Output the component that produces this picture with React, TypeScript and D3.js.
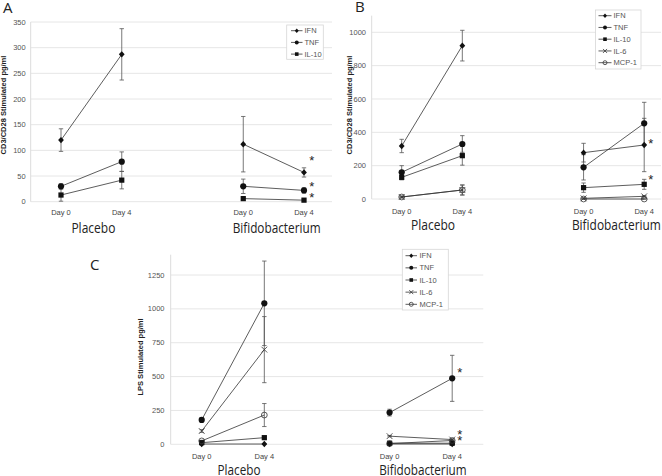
import React from "react";
import * as d3 from "d3";

// ---------- data ----------
const dayLabels = ["Day 0", "Day 4", "Day 0", "Day 4"];
const slots = [0, 1, 3, 4];
const groupLabels = ["Placebo", "Bifidobacterium"];

const panelASeries = ["IFN", "TNF", "IL-10"];
const panelAValues = [
  [120, 287, 112, 57],
  [30, 78, 30, 22],
  [13, 42, 6, 3],
];
const panelAErrors = [
  [22, 50, 54, 9],
  [5, 19, 14, 5],
  [12, 17, 3, 2],
];
const panelATicks = [0, 50, 100, 150, 200, 250, 300, 350];
const panelAStarValues = [84, 34, 13];

const panelBSeries = ["IFN", "TNF", "IL-10", "IL-6", "MCP-1"];
const panelBValues = [
  [318, 920, 278, 324],
  [160, 330, 190, 454],
  [130, 260, 68, 88],
  [12, 54, 4, 16],
  [12, 54, 0, 0],
];
const panelBErrors = [
  [40, 92, 56, 160],
  [40, 50, 76, 126],
  [15, 57, 28, 30],
  [5, 30, 3, 5],
  [5, 30, 2, 2],
];
const panelBTicks = [0, 200, 400, 600, 800, 1000];
const panelBStarValues = [344, 128];

const panelCSeries = ["IFN", "TNF", "IL-10", "IL-6", "MCP-1"];
const panelCValues = [
  [2, 2, 2, 2],
  [180, 1041, 234, 487],
  [12, 49, 8, 8],
  [98, 699, 60, 35],
  [25, 216, 5, 28],
];
const panelCErrors = [
  [1, 1, 1, 1],
  [15, 312, 25, 170],
  [5, 10, 3, 3],
  [10, 244, 5, 5],
  [5, 85, 3, 5],
];
const panelCTicks = [0, 250, 500, 750, 1000, 1250];
const panelCStarValues = [548, 90, 40];

// ---------- styles ----------
const markerOf: Record<string, string> = {
  IFN: "diamond",
  TNF: "circle",
  "IL-10": "square",
  "IL-6": "x",
  "MCP-1": "open",
};
const SMALL = "'Liberation Sans', Arial, sans-serif";
const BIG = "'Open Sans', 'Noto Sans', sans-serif";

function Marker({ type, x, y, s }: { type: string; x: number; y: number; s: number }) {
  const ink = "#111";
  if (type === "diamond")
    return <path d={`M${x},${y - s * 1.1}L${x + s},${y}L${x},${y + s * 1.1}L${x - s},${y}Z`} fill={ink} />;
  if (type === "circle") return <circle cx={x} cy={y} r={s} fill={ink} />;
  if (type === "square") return <rect x={x - s * 0.9} y={y - s * 0.9} width={s * 1.8} height={s * 1.8} fill={ink} />;
  if (type === "x")
    return (
      <g stroke="#333" strokeWidth={0.8}>
        <line x1={x - s} y1={y - s} x2={x + s} y2={y + s} />
        <line x1={x - s} y1={y + s} x2={x + s} y2={y - s} />
      </g>
    );
  return <circle cx={x} cy={y} r={s} fill="none" stroke="#333" strokeWidth={0.8} />;
}

type Cfg = {
  series: string[];
  values: number[][];
  errors: number[][];
  ticks: number[];
  yDomainMax: number;
  axisTopVal: number;
  yRange: [number, number];
  xRange: [number, number];
  gridX: [number, number];
  tickX: number;
  title: string;
  titleX: number;
  titleY: number;
  letter: string;
  letterX: number;
  letterY: number;
  dayY: number;
  groupY: number;
  groupDx: number[];
  groupW: number[];
  legend: { x0: number; x1: number; y0: number; y1: number; row0: number; step: number; l0: number; l1: number; tx: number };
  stars: number[];
  starDx: number;
};

function Panel({ c }: { c: Cfg }) {
  const y = d3.scaleLinear().domain([0, c.yDomainMax]).range(c.yRange);
  const x = d3.scaleLinear().domain([0, 4]).range(c.xRange);
  const line = d3
    .line<[number, number]>()
    .x((d) => x(d[0]))
    .y((d) => y(d[1]));
  return (
    <g>
      {c.ticks.map((t) => (
        <g key={"g" + t}>
          <line x1={c.gridX[0]} x2={c.gridX[1]} y1={y(t)} y2={y(t)} stroke="#e6e6e6" strokeWidth={1} />
          <text x={c.tickX} y={y(t) + 2.6} textAnchor="end" fontFamily={SMALL} fontSize={7.5} fill="#555">
            {t}
          </text>
        </g>
      ))}
      <line x1={c.gridX[0]} x2={c.gridX[0]} y1={y(c.axisTopVal)} y2={y(0)} stroke="#dcdcdc" strokeWidth={1} />
      <text
        transform={`translate(${c.titleX},${c.titleY}) rotate(-90)`}
        textAnchor="middle"
        dominantBaseline="middle"
        fontFamily={SMALL}
        fontWeight="bold"
        fontSize={7.5}
        fill="#222"
      >
        {c.title}
      </text>
      <text x={c.letterX} y={c.letterY} fontFamily={BIG} fontSize={15} fill="#222">
        {c.letter}
      </text>
      {/* error bars */}
      {c.series.map((s, si) =>
        c.values[si].map((v, i) => {
          const e = c.errors[si][i];
          const px = x(slots[i]);
          return (
            <g key={`e${s}${i}`} stroke="#555" strokeWidth={0.8}>
              <line x1={px} x2={px} y1={y(v - e)} y2={y(v + e)} />
              <line x1={px - 2.2} x2={px + 2.2} y1={y(v + e)} y2={y(v + e)} />
              <line x1={px - 2.2} x2={px + 2.2} y1={y(v - e)} y2={y(v - e)} />
            </g>
          );
        })
      )}
      {/* lines */}
      {c.series.map((s, si) => (
        <g key={"l" + s}>
          {[0, 2].map((k) => (
            <path
              key={k}
              d={line([
                [slots[k], c.values[si][k]],
                [slots[k + 1], c.values[si][k + 1]],
              ]) as string}
              fill="none"
              stroke="#333"
              strokeWidth={0.8}
            />
          ))}
        </g>
      ))}
      {/* markers */}
      {c.series.map((s, si) =>
        c.values[si].map((v, i) => (
          <Marker key={`m${s}${i}`} type={markerOf[s]} x={x(slots[i])} y={y(v)} s={markerOf[s] === "circle" ? 3.1 : 2.9} />
        ))
      )}
      {/* stars */}
      {c.stars.map((v, i) => (
        <text key={"s" + i} x={x(4) + c.starDx} y={y(v) + 6.5} textAnchor="middle" fontFamily={SMALL} fontSize={13} fill="#222">
          *
        </text>
      ))}
      {/* day labels */}
      {dayLabels.map((d, i) => (
        <text key={"d" + i} x={x(slots[i])} y={c.dayY} textAnchor="middle" fontFamily={SMALL} fontSize={7.5} fill="#444">
          {d}
        </text>
      ))}
      {groupLabels.map((g, gi) => (
        <text
          key={g}
          x={(x(slots[gi * 2]) + x(slots[gi * 2 + 1])) / 2 + c.groupDx[gi]}
          y={c.groupY}
          textAnchor="middle"
          fontFamily={BIG}
          fontSize={14}
          textLength={c.groupW[gi]}
          lengthAdjust="spacingAndGlyphs"
          fill="#222"
        >
          {g}
        </text>
      ))}
      {/* legend */}
      <rect
        x={c.legend.x0}
        y={c.legend.y0}
        width={c.legend.x1 - c.legend.x0}
        height={c.legend.y1 - c.legend.y0}
        fill="white"
        stroke="#d6d6d6"
        strokeWidth={0.8}
      />
      {c.series.map((s, si) => {
        const ly = c.legend.row0 + si * c.legend.step;
        const mx = (c.legend.l0 + c.legend.l1) / 2;
        return (
          <g key={"lg" + s}>
            <line x1={c.legend.l0} x2={c.legend.l1} y1={ly} y2={ly} stroke="#333" strokeWidth={0.8} />
            <Marker type={markerOf[s]} x={mx} y={ly} s={2} />
            <text x={c.legend.tx} y={ly + 2.6} fontFamily={SMALL} fontSize={7.5} fill="#555">
              {s}
            </text>
          </g>
        );
      })}
    </g>
  );
}

const cfgA: Cfg = {
  series: panelASeries,
  values: panelAValues,
  errors: panelAErrors,
  ticks: panelATicks,
  yDomainMax: 350,
  axisTopVal: 350,
  yRange: [201.7, 22],
  xRange: [61, 304],
  gridX: [30.7, 332],
  tickX: 25.7,
  title: "CD3/CD28 Stimulated pg/ml",
  titleX: 4,
  titleY: 105,
  letter: "A",
  letterX: 3,
  letterY: 12.5,
  dayY: 215,
  groupY: 233.3,
  groupDx: [2, 3],
  groupW: [44, 88],
  legend: { x0: 286.7, x1: 323.3, y0: 25, y1: 59.3, row0: 30.7, step: 11.7, l0: 291, l1: 302.5, tx: 304.5 },
  stars: panelAStarValues,
  starDx: 7.7,
};

const cfgB: Cfg = {
  series: panelBSeries,
  values: panelBValues,
  errors: panelBErrors,
  ticks: panelBTicks,
  yDomainMax: 1000,
  axisTopVal: 1100,
  yRange: [199, 32.3],
  xRange: [401.7, 644.2],
  gridX: [371.7, 661],
  tickX: 366,
  title: "CD3/CD28 Stimulated pg/ml",
  titleX: 350.5,
  titleY: 105,
  letter: "B",
  letterX: 355,
  letterY: 12,
  dayY: 213.5,
  groupY: 229.5,
  groupDx: [1, 2.5],
  groupW: [44, 89],
  legend: { x0: 595.5, x1: 641, y0: 10, y1: 69, row0: 15.7, step: 11.75, l0: 598.5, l1: 611.5, tx: 613.5 },
  stars: panelBStarValues,
  starDx: 6.7,
};

const cfgC: Cfg = {
  series: panelCSeries,
  values: panelCValues,
  errors: panelCErrors,
  ticks: panelCTicks,
  yDomainMax: 1250,
  axisTopVal: 1400,
  yRange: [444.3, 275],
  xRange: [201.7, 452.2],
  gridX: [170.7, 483.3],
  tickX: 164.5,
  title: "LPS Stimulated pg/ml",
  titleX: 141.5,
  titleY: 357,
  letter: "C",
  letterX: 90,
  letterY: 270,
  dayY: 458.5,
  groupY: 474.5,
  groupDx: [6, 2],
  groupW: [43, 87.5],
  legend: { x0: 402.3, x1: 448.3, y0: 249.3, y1: 310, row0: 255.7, step: 12.15, l0: 405.5, l1: 417, tx: 419.5 },
  stars: panelCStarValues,
  starDx: 7.7,
};

export default function App() {
  return (
    <svg width={662} height={476} style={{ position: "absolute", left: 0, top: 0 }}>
      <rect width={662} height={476} fill="white" />
      <Panel c={cfgA} />
      <Panel c={cfgB} />
      <Panel c={cfgC} />
    </svg>
  );
}
